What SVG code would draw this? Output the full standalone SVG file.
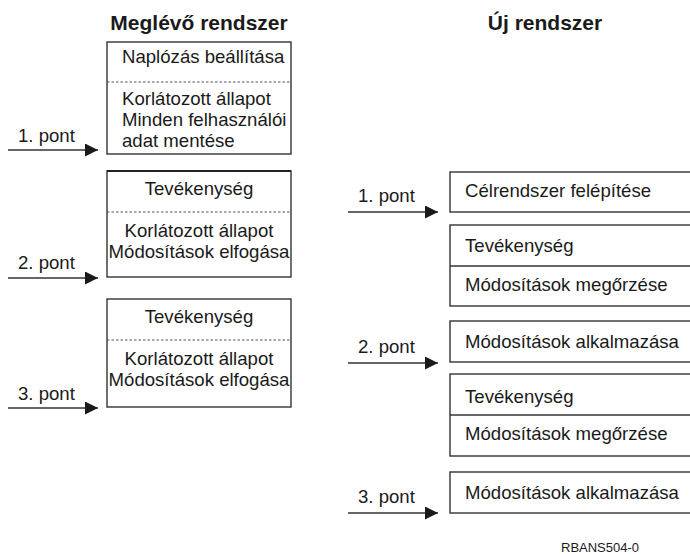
<svg xmlns="http://www.w3.org/2000/svg" width="690" height="554" viewBox="0 0 690 554">
<defs>
<marker id="ah" markerWidth="14" markerHeight="14" refX="13" refY="6.5" orient="auto" markerUnits="userSpaceOnUse">
<path d="M0,0 L13,6.5 L0,13 Z" fill="#1a1a1a"/>
</marker>
<style>
text{font-family:"Liberation Sans",Arial,sans-serif;fill:#1a1a1a}
.t{font-size:18.6px}
.h{font-size:21px;font-weight:bold}
.c{text-anchor:middle}
.s{font-size:13px}
.box{fill:#fff;stroke:#333;stroke-width:1.4}
.dash{stroke:#555;stroke-width:1.2;stroke-dasharray:2.5 2}
.sep{stroke:#333;stroke-width:1.4}
.arr{stroke:#333;stroke-width:1.3;fill:none;marker-end:url(#ah)}
</style>
</defs>
<rect width="690" height="554" fill="#fff"/>
<text class="h c" x="199" y="30">Meglévő rendszer</text>
<text class="h c" x="545" y="30">Új rendszer</text>

<g id="L1">
<rect class="box" x="107" y="42" width="184" height="112"/>
<line class="dash" x1="107" y1="82" x2="291" y2="82"/>
<text class="t" x="122" y="63">Naplózás beállítása</text>
<text class="t" x="122" y="105">Korlátozott állapot</text>
<text class="t" x="122" y="126">Minden felhasználói</text>
<text class="t" x="122" y="147">adat mentése</text>
</g>
<g id="L2">
<rect class="box" x="107" y="171" width="184" height="106"/>
<line x1="107" y1="171" x2="291" y2="171" stroke="#222" stroke-width="2"/>
<line class="dash" x1="107" y1="212" x2="291" y2="212"/>
<text class="t c" x="199" y="195">Tevékenység</text>
<text class="t c" x="199" y="237">Korlátozott állapot</text>
<text class="t c" x="199" y="258">Módosítások elfogása</text>
</g>
<g id="L3">
<rect class="box" x="107" y="299" width="184" height="108"/>
<line class="dash" x1="107" y1="340" x2="291" y2="340"/>
<text class="t c" x="199" y="323">Tevékenység</text>
<text class="t c" x="199" y="365">Korlátozott állapot</text>
<text class="t c" x="199" y="386">Módosítások elfogása</text>
</g>

<g id="R1">
<rect class="box" x="450" y="172" width="260" height="40"/>
<text class="t" x="465" y="197">Célrendszer felépítése</text>
</g>
<g id="R2">
<rect class="box" x="450" y="225" width="260" height="81"/>
<line class="sep" x1="450" y1="266" x2="710" y2="266"/>
<text class="t" x="465" y="252">Tevékenység</text>
<text class="t" x="465" y="291">Módosítások megőrzése</text>
</g>
<g id="R3">
<rect class="box" x="450" y="321" width="260" height="41"/>
<text class="t" x="465" y="348">Módosítások alkalmazása</text>
</g>
<g id="R4">
<rect class="box" x="450" y="374" width="260" height="82"/>
<line class="sep" x1="450" y1="415" x2="710" y2="415"/>
<text class="t" x="465" y="403">Tevékenység</text>
<text class="t" x="465" y="440">Módosítások megőrzése</text>
</g>
<g id="R5">
<rect class="box" x="450" y="472" width="260" height="41"/>
<text class="t" x="465" y="499">Módosítások alkalmazása</text>
</g>

<g id="connectors">
<line class="arr" x1="8" y1="150" x2="98" y2="150"/>
<line class="arr" x1="8" y1="278" x2="98" y2="278"/>
<line class="arr" x1="8" y1="408" x2="98" y2="408"/>
<line class="arr" x1="348" y1="212" x2="438" y2="212"/>
<line class="arr" x1="348" y1="363" x2="438" y2="363"/>
<line class="arr" x1="348" y1="513" x2="438" y2="513"/>
</g>
<g id="labels">
<text class="t" x="18" y="142">1. pont</text>
<text class="t" x="18" y="269">2. pont</text>
<text class="t" x="18" y="400">3. pont</text>
<text class="t" x="358" y="202">1. pont</text>
<text class="t" x="358" y="353">2. pont</text>
<text class="t" x="358" y="503">3. pont</text>
</g>
<text class="s" x="561" y="552">RBANS504-0</text>
</svg>
